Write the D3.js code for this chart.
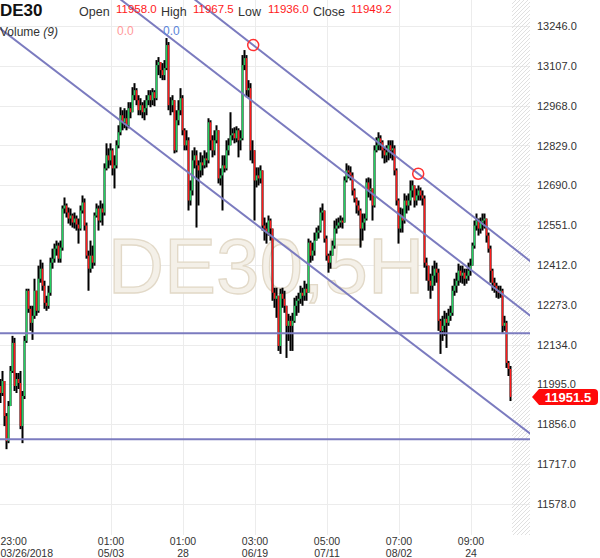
<!DOCTYPE html>
<html><head><meta charset="utf-8">
<script src="https://cdn.jsdelivr.net/npm/d3@7"></script>
<style>body{margin:0;background:#fff;} svg{display:block;font-family:Arial,"Liberation Sans",sans-serif;}</style>
</head><body><svg id="c" width="600" height="558"></svg>
<script>
// ---- data ----
const firstOpen = 11989.5;
const closes = [
11965,12007,11884.5,11797,11919.5,12042,12140,11989.5,12014,12000,
11849.5,11954.5,12147,12322,12259,12210,12234.5,12322,12252,12364,
12399,12339.5,12280,12269.5,12315,12420,12434,12469,12479.5,12434,
12472.5,12609,12619.5,12595,12574,12584.5,12560,12574,12553,12539,
12602,12630,12549.5,12444.5,12399,12444.5,12420,12584.5,12609,12567,
12609,12595,12749,12794.5,12777,12812,12749,12759.5,12829.5,12875,
12934.5,12910,12924,12899.5,12959,12945,13004.5,13022,12987,12952,
12969.5,12945,12959,12987,13004.5,12987,13015,12994,13109.5,13120,
13092,13074.5,13099,13179.5,12969.5,12969.5,12987,12812,12917,12952,
12994,12882,12829.5,12847,12637,12672,12777,12794.5,12759.5,12742,
12770,12759.5,12784,12777,12910,12847,12812,12847,12882,12714,
12724.5,12759.5,12749,12812,12829.5,12864.5,12871.5,12854,12882,12847,
12854,13109.5,13134,13022,13029,12812,12812,12707,12724.5,12714,
12742,12549.5,12539,12525,12567,12539,12315,12294,12304.5,12129.5,
12311.5,12294,12269.5,12199.5,12217,12199.5,12217,12269.5,12287,12294,
12315,12304.5,12329,12315,12490,12444.5,12462,12497,12525,12532,
12595,12602,12504,12444.5,12420,12444.5,12479.5,12539,12549.5,12560,
12567,12560,12707,12742,12735,12724.5,12672,12644,12619.5,12602,
12539,12560,12574,12700,12672,12679,12619.5,12812,12829.5,12854,
12840,12812,12794.5,12805,12829.5,12812,12819,12742,12637,12539,
12584.5,12567,12637,12619.5,12637,12672,12689.5,12637,12654.5,12672,
12654.5,12644,12420,12409.5,12357,12339.5,12374.5,12399,12385,12217,
12182,12199.5,12224,12210,12234.5,12245,12322,12339.5,12357,12392,
12374.5,12385,12364,12374.5,12392,12409.5,12479.5,12549.5,12567,12539,
12560,12567,12574,12514.5,12469,12392,12350,12339.5,12322,12315,
12322,12199.5,12210,12070,12049,11951.5];
const highs = [
12014,12042,12007,11895,11937,12059.5,12164.5,12157.5,12035,12035,
12042,11972,12164.5,12329,12329,12269.5,12269.5,12364,12322,12409.5,
12430.5,12420,12357,12304.5,12339.5,12437.5,12469,12486.5,12497,12490,
12497,12619.5,12647.5,12626.5,12612.5,12609,12591.5,12595,12584.5,12574,
12619.5,12654.5,12644,12560,12462,12497,12479.5,12595,12626.5,12619.5,
12637,12626.5,12766.5,12836.5,12819,12836.5,12819,12794.5,12847,12899.5,
12962.5,12952,12959,12952,12980,12980,13032.5,13046.5,13029,13004.5,
12994,12980,12987,13004.5,13022,13022,13029,13022,13127,13137.5,
13120,13116.5,13127,13204,13190,12997.5,13004.5,12987,12952,12987,
13029,13004.5,12889,12882,12857.5,12707,12812,12822.5,12812,12777,
12805,12794.5,12812,12805,12924,12917,12864.5,12882,12899.5,12871.5,
12749,12794.5,12794.5,12847,12854,12945,12889,12892.5,12896,12889,
12882,13144.5,13162,13144.5,13057,13046.5,12847,12777,12752.5,12752.5,
12759.5,12735,12577.5,12560,12584.5,12574,12539,12332.5,12332.5,12304.5,
12329,12332.5,12322,12269.5,12241.5,12234.5,12245,12297.5,12304.5,12315,
12339.5,12332.5,12357,12346.5,12504,12497,12490,12525,12542.5,12549.5,
12612.5,12626.5,12602,12514.5,12451.5,12462,12497,12567,12574,12577.5,
12584.5,12577.5,12721,12766.5,12759.5,12756,12735,12679,12647.5,12637,
12609,12591.5,12591.5,12714,12717.5,12714,12672,12829.5,12857.5,12875,
12864.5,12847,12822.5,12829.5,12847,12847,12847,12829.5,12749,12644,
12612.5,12609,12661.5,12654.5,12661.5,12707,12707,12682.5,12679,12689.5,
12682.5,12672,12654.5,12437.5,12399,12381.5,12409.5,12427,12420,12399,
12224,12234.5,12252,12245,12259,12269.5,12339.5,12364,12385,12416.5,
12409.5,12409.5,12399,12399,12420,12434,12490,12567,12591.5,12574,
12577.5,12591.5,12591.5,12574,12525,12479.5,12399,12367.5,12350,12339.5,
12339.5,12329,12234.5,12217,12077,12059.5];
const lows = [
11930,11954.5,11849.5,11769,11790,11919.5,12035,11972,11965,11979,
11839,11790,11944,12140,12245,12182,12150.5,12224,12234.5,12245,
12350,12322,12259,12252,12259,12304.5,12399,12420,12444.5,12420,
12420,12462,12591.5,12577.5,12556.5,12549.5,12542.5,12539,12532,12486.5,
12532,12591.5,12532,12434,12322,12385,12399,12409.5,12577.5,12532,
12560,12549.5,12584.5,12742,12749,12759.5,12724.5,12679,12749,12819,
12864.5,12882,12889,12882,12889,12924,12945,12987,12969.5,12934.5,
12934.5,12924,12917,12934.5,12969.5,12962.5,12969.5,12966,12987,13074.5,
13064,13057,13057,13092,12952,12934.5,12945,12801.5,12805,12899.5,
12934.5,12864.5,12812,12812,12602,12619.5,12654.5,12749,12542.5,12619.5,
12717.5,12724.5,12749,12752.5,12766.5,12812,12787.5,12794.5,12836.5,12696.5,
12689.5,12602,12735,12742,12794.5,12840,12847,12836.5,12840,12787.5,
12812,12847,13092,12997.5,12997.5,12777,12766.5,12567,12682.5,12689.5,
12696.5,12532,12497,12486.5,12514.5,12497,12287,12262.5,12227.5,12112,
12101.5,12262.5,12245,12087.5,12147,12112,12112,12210,12234.5,12245,
12276.5,12269.5,12287,12287,12315,12420,12427,12444.5,12497,12504,
12525,12567,12490,12427,12385,12399,12444.5,12469,12521.5,12539,
12542.5,12539,12560,12700,12714,12707,12654.5,12630,12591.5,12584.5,
12472.5,12497,12532,12567,12647.5,12637,12567,12612.5,12805,12812,
12812,12784,12766.5,12770,12777,12784,12777,12724.5,12619.5,12486.5,
12525,12525,12556.5,12591.5,12602,12619.5,12647.5,12612.5,12619.5,12637,
12637,12619.5,12402.5,12357,12322,12294,12322,12339.5,12350,12182,
12101.5,12147,12164.5,12122.5,12199.5,12217,12234.5,12304.5,12315,12339.5,
12350,12346.5,12339.5,12346.5,12357,12374.5,12420,12469,12532,12514.5,
12521.5,12532,12539,12490,12455,12350,12322,12315,12297.5,12294,
12297.5,12175,12182,12052.5,12024.5,11937];

const yTicks = [13246,13107,12968,12829,12690,12551,12412,12273,12134,11995,11856,11717,11578];
const xTickIdx = [0,55,91,127,163,199,235];
const xTickTime = ["23:00","01:00","01:00","03:00","05:00","07:00","09:00"];
const xTickDate = ["03/26/2018","05/03","28","06/19","07/11","08/02","24"];
const hLines = [12173.5, 11804];
const trendLines = [
  [[0,13236],[265,11822]],
  [[73.35,13267],[265,12234.5]],
  [[126.35,13179.5],[208.85,12730.4]]
];
const markers = [[126.35,13179.5],[208.85,12730.4]];
const symbol = "DE30";
const watermark = "DE30,5H";
const ohlcLabels = ["Open","High","Low","Close"];
const ohlcValues = ["11958.0","11967.5","11936.0","11949.2"];
const lastPrice = 11951.5;

// ---- drawing ----
const svg = d3.select("#c");
const PW = 530, PH = 535;
const x = d3.scaleLinear().domain([0, closes.length - 1]).range([0.5, 510.5]);
const y = d3.scaleLinear().domain([11578, 13246]).range([503.9, 26]);

const defs = svg.append("defs");
const pat = defs.append("pattern").attr("id","hatch").attr("patternUnits","userSpaceOnUse")
  .attr("width",4).attr("height",4);
pat.append("path").attr("d","M-1,1 l2,-2 M0,4 l4,-4 M3,5 l2,-2").attr("stroke","#d8d8d8").attr("stroke-width",0.8);
defs.append("clipPath").attr("id","plot").append("rect").attr("x",0).attr("y",0).attr("width",PW).attr("height",PH);

// grid
const grid = svg.append("g");
grid.selectAll(".hg").data(yTicks).enter().append("line")
  .attr("x1",0).attr("x2",PW).attr("y1",d=>Math.round(y(d))+0.5).attr("y2",d=>Math.round(y(d))+0.5)
  .attr("stroke","#ececec");
grid.selectAll(".vg").data(xTickIdx.slice(1)).enter().append("line")
  .attr("x1",d=>Math.round(x(d))+0.5).attr("x2",d=>Math.round(x(d))+0.5).attr("y1",0).attr("y2",PH)
  .attr("stroke","#ececec");

// hatch future area
svg.append("rect").attr("x",512).attr("y",0).attr("width",PW-512).attr("height",PH).attr("fill","url(#hatch)");

// watermark
svg.append("text").attr("x",266).attr("y",293).attr("text-anchor","middle")
  .attr("font-size",78).attr("fill","#f4f0e8").attr("stroke","#e2d9c8").attr("stroke-width",1.3)
  .text(watermark);

// candles
const candles = closes.map((c,i)=>({i, o: i===0 ? firstOpen : closes[i-1], c, h: highs[i], l: lows[i]}));
const cg = svg.append("g").attr("clip-path","url(#plot)");
cg.selectAll(".w").data(candles).enter().append("line")
  .attr("x1",d=>x(d.i)).attr("x2",d=>x(d.i))
  .attr("y1",d=>y(Math.max(d.h,d.o,d.c))).attr("y2",d=>y(Math.min(d.l,d.o,d.c)))
  .attr("stroke","#000").attr("stroke-width",2);
cg.selectAll(".b").data(candles).enter().append("line")
  .attr("x1",d=>x(d.i)).attr("x2",d=>x(d.i))
  .attr("y1",d=>y(d.o)).attr("y2",d=>y(d.c))
  .attr("stroke",d=>d.c>=d.o ? "#22d160" : "#ff1a1a").attr("stroke-width",1.4);

// horizontal lines
const lg = svg.append("g").attr("clip-path","url(#plot)");
lg.selectAll(".hl").data(hLines).enter().append("line")
  .attr("x1",0).attr("x2",PW).attr("y1",d=>y(d)).attr("y2",d=>y(d))
  .attr("stroke","#7b7bbf").attr("stroke-width",2);
// trend lines (extended)
lg.selectAll(".tl").data(trendLines).enter().append("line")
  .each(function(d){
    const [[i1,p1],[i2,p2]] = d;
    const s = (p2-p1)/(i2-i1);
    const a = -120, b = 270;
    d3.select(this).attr("x1",x(a)).attr("y1",y(p1+s*(a-i1))).attr("x2",x(b)).attr("y2",y(p1+s*(b-i1)));
  })
  .attr("stroke","#7b7bbf").attr("stroke-width",2);
lg.selectAll(".mk").data(markers).enter().append("circle")
  .attr("cx",d=>x(d[0])).attr("cy",d=>y(d[1])).attr("r",5.5)
  .attr("fill","none").attr("stroke","#ff3030").attr("stroke-width",1.5);

// right axis
const ya = svg.append("g").attr("transform",`translate(${PW},0)`)
  .call(d3.axisRight(y).tickValues(yTicks).tickFormat(d=>d.toFixed(1)).tickSize(0).tickPadding(7));
ya.select(".domain").remove();
ya.selectAll("text").attr("font-size",11).attr("fill","#333").attr("font-family","Arial,'Liberation Sans',sans-serif");

// bottom axis: time line via axis, date line as second text
const xa = svg.append("g").attr("transform",`translate(0,${PH})`)
  .call(d3.axisBottom(x).tickValues(xTickIdx).tickFormat((d,k)=>xTickTime[k]).tickSize(0));
xa.select(".domain").remove();
xa.selectAll(".tick text").attr("font-size",10.5).attr("fill","#333")
  .attr("font-family","Arial,'Liberation Sans',sans-serif").attr("dy",null).attr("y",10);
xa.selectAll(".tick").append("text").attr("font-size",10.5).attr("fill","#333")
  .attr("font-family","Arial,'Liberation Sans',sans-serif").attr("text-anchor","middle").attr("y",22)
  .text((d,k)=>xTickDate[k]);
xa.selectAll(".tick").filter((d,k)=>k===0).selectAll("text")
  .attr("text-anchor","start").attr("x",d=>-x(d));

// price label
const yc = Math.round(y(lastPrice));
svg.append("path")
  .attr("d",`M532,${yc} L539,${yc-8} L594,${yc-8} Q598,${yc-8} 598,${yc-4} L598,${yc+4} Q598,${yc+8} 594,${yc+8} L539,${yc+8} Z`)
  .attr("fill","#ff0a0a");
svg.append("text").attr("x",568).attr("y",yc+4.5).attr("text-anchor","middle")
  .attr("font-size",13).attr("font-weight","bold").attr("fill","#fff").text(lastPrice.toFixed(1));

// header
const hd = svg.append("g");
hd.append("text").attr("x",0).attr("y",16).attr("font-size",17).attr("font-weight","bold").attr("fill","#111").text(symbol);
const labX = [79,161,238,313], valX = [116,193,268,351];
ohlcLabels.forEach((l,k)=>{
  hd.append("text").attr("x",labX[k]).attr("y",16).attr("font-size",12.5).attr("fill","#333").text(l);
  hd.append("text").attr("x",valX[k]).attr("y",13).attr("font-size",11.5).attr("fill","#ff1a1a").text(ohlcValues[k]);
});
const vt = hd.append("text").attr("x",0).attr("y",36).attr("font-size",12).attr("fill","#333");
vt.append("tspan").text("Volume ");
vt.append("tspan").attr("font-style","italic").text("(9)");
hd.append("text").attr("x",117).attr("y",35).attr("font-size",12).attr("fill","#ff9a9a").text("0.0");
hd.append("text").attr("x",163).attr("y",35).attr("font-size",12).attr("fill","#5b84d8").text("0.0");
</script></body></html>
